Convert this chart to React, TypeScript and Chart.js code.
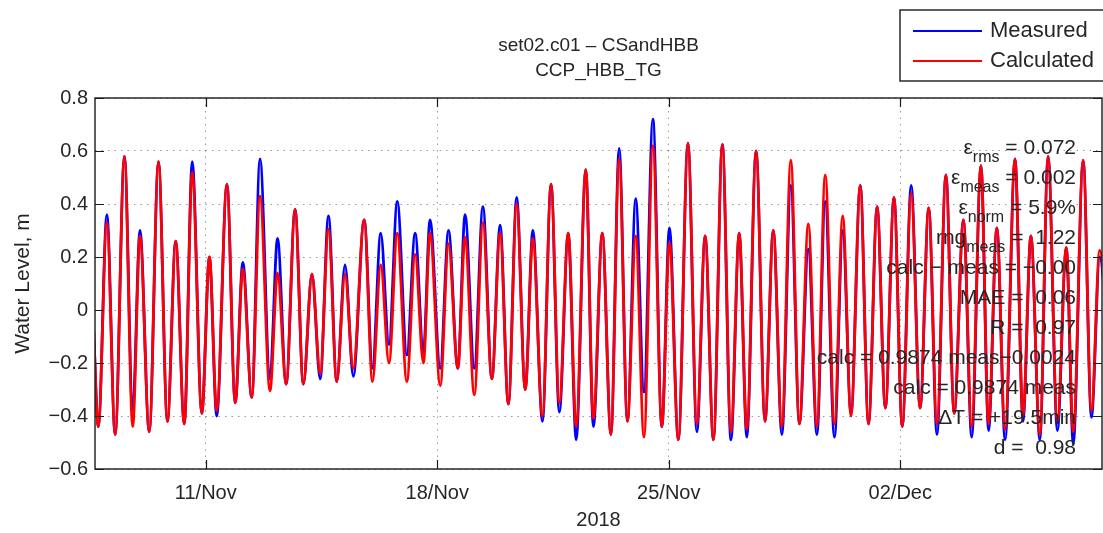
import React, { useEffect, useRef } from "react";
import { Chart, registerables } from "chart.js";

Chart.register(...registerables);

// Time axis: day number counted from 0 Nov 2018 (Dec 2 = 32)
const xTickValues = [11, 18, 25, 32];
const xTickLabels = ["11/Nov", "18/Nov", "25/Nov", "02/Dec"];
const yTickValues = [-0.6, -0.4, -0.2, 0, 0.2, 0.4, 0.6, 0.8];
const yTickLabels = ["\u22120.6", "\u22120.4", "\u22120.2", "0", "0.2", "0.4", "0.6", "0.8"];

const titleLines = ["set02.c01 \u2013 CSandHBB", "CCP_HBB_TG"];
const xAxisTitle = "2018";
const yAxisTitle = "Water Level, m";
const seriesNames = ["Measured", "Calculated"];

// Times (days) of the high / low water turning points
const days = [
  7.6, 7.75, 8.01, 8.26, 8.54, 8.79, 9.01, 9.29, 9.57, 9.84, 10.09, 10.35, 10.59, 10.88, 11.11, 11.33,
  11.64, 11.89, 12.12, 12.39, 12.64, 12.94, 13.17, 13.43, 13.7, 13.95, 14.21, 14.46, 14.71, 14.96,
  15.21, 15.46, 15.79, 16.04, 16.29, 16.54, 16.79, 17.08, 17.33, 17.58, 17.78, 18.09, 18.34, 18.62,
  18.84, 19.12, 19.38, 19.65, 19.9, 20.15, 20.4, 20.66, 20.89, 21.18, 21.44, 21.69, 21.96, 22.2,
  22.49, 22.72, 22.99, 23.25, 23.5, 23.75, 24.0, 24.25, 24.52, 24.79, 25.02, 25.29, 25.58, 25.85,
  26.1, 26.35, 26.62, 26.88, 27.13, 27.36, 27.64, 27.91, 28.16, 28.42, 28.69, 28.95, 29.22, 29.48,
  29.73, 30.01, 30.26, 30.51, 30.79, 31.04, 31.3, 31.55, 31.81, 32.06, 32.33, 32.6, 32.86, 33.11,
  33.38, 33.63, 33.91, 34.16, 34.44, 34.67, 34.92, 35.17, 35.47, 35.71, 35.95, 36.22, 36.47, 36.75,
  37.02, 37.23, 37.53, 37.78, 38.03, 38.3,
];

const measured = [
  -0.05,
  -0.44, 0.36, -0.47, 0.58, -0.38, 0.3, -0.46, 0.56, -0.42, 0.26,
  -0.43, 0.56, -0.39, 0.2, -0.4, 0.475, -0.35, 0.18, -0.33, 0.57,
  -0.26, 0.27, -0.28, 0.38, -0.28, 0.135, -0.26, 0.355, -0.27, 0.17,
  -0.25, 0.34, -0.22, 0.29, -0.13, 0.41, -0.17, 0.29, -0.16, 0.34,
  -0.22, 0.3, -0.22, 0.36, -0.22, 0.39, -0.26, 0.32, -0.355, 0.425,
  -0.3, 0.3, -0.42, 0.475, -0.385, 0.29, -0.49, 0.53, -0.44, 0.29,
  -0.47, 0.61, -0.42, 0.42, -0.31, 0.72, -0.44, 0.31, -0.49, 0.63,
  -0.46, 0.28, -0.49, 0.625, -0.49, 0.29, -0.48, 0.6, -0.42, 0.3,
  -0.47, 0.47, -0.43, 0.23, -0.47, 0.41, -0.48, 0.3, -0.39, 0.47,
  -0.43, 0.39, -0.37, 0.425, -0.44, 0.47, -0.37, 0.385, -0.47, 0.51,
  -0.39, 0.34, -0.48, 0.545, -0.455, 0.31, -0.49, 0.57, -0.42, 0.28,
  -0.49, 0.58, -0.455, 0.235, -0.505, 0.565, -0.405, 0.2,
  -0.15,
];

const calculated = [
  -0.05,
  -0.44, 0.33, -0.47, 0.58, -0.44, 0.28, -0.46, 0.56, -0.42, 0.26,
  -0.43, 0.52, -0.39, 0.2, -0.38, 0.475, -0.35, 0.155, -0.33, 0.43,
  -0.305, 0.14, -0.28, 0.38, -0.28, 0.135, -0.24, 0.305, -0.27, 0.135,
  -0.22, 0.34, -0.27, 0.17, -0.2, 0.29, -0.27, 0.21, -0.2, 0.29,
  -0.285, 0.25, -0.22, 0.275, -0.32, 0.33, -0.26, 0.29, -0.355, 0.4,
  -0.3, 0.27, -0.4, 0.475, -0.35, 0.29, -0.44, 0.53, -0.41, 0.29,
  -0.47, 0.57, -0.42, 0.28, -0.48, 0.62, -0.44, 0.255, -0.49, 0.63,
  -0.43, 0.28, -0.49, 0.625, -0.46, 0.29, -0.45, 0.6, -0.42, 0.3,
  -0.44, 0.565, -0.43, 0.325, -0.44, 0.51, -0.43, 0.355, -0.4, 0.47,
  -0.43, 0.39, -0.37, 0.425, -0.44, 0.44, -0.37, 0.385, -0.43, 0.51,
  -0.39, 0.34, -0.44, 0.545, -0.43, 0.31, -0.45, 0.57, -0.4, 0.28,
  -0.47, 0.58, -0.42, 0.235, -0.46, 0.565, -0.38, 0.225,
  -0.1,
];

// Statistics box: [main, subscript, rest]
const statLines: [string, string, string][] = [
  ["\u03b5", "rms", " = 0.072"],
  ["\u03b5", "meas", " = 0.002"],
  ["\u03b5", "norm", " = 5.9%"],
  ["rng", "meas", " =  1.22"],
  ["calc \u2212 meas = \u22120.00", "", ""],
  ["MAE =  0.06", "", ""],
  ["R =  0.97", "", ""],
  ["calc = 0.9874 meas\u22120.0024", "", ""],
  ["calc = 0.9874 meas", "", ""],
  ["\u0394T = +19.5min", "", ""],
  ["d =  0.98", "", ""],
];

const FONT = '"Liberation Sans", Arial, Helvetica, sans-serif';
const TEXT = "#262626";
const BLUE = "#0000ff";
const RED = "#ff0000";

const overlay = {
  id: "matlabOverlay",
  afterDraw(chart: any) {
    const ctx: CanvasRenderingContext2D = chart.ctx;
    const a = chart.chartArea;
    const xs = chart.scales.x;
    const ys = chart.scales.y;
    ctx.save();

    // axes box
    ctx.strokeStyle = "#1a1a1a";
    ctx.lineWidth = 1.4;
    ctx.strokeRect(a.left, a.top, a.right - a.left, a.bottom - a.top);

    // inward ticks
    ctx.beginPath();
    yTickValues.forEach((v) => {
      const y = Math.round(ys.getPixelForValue(v)) + 0.5;
      ctx.moveTo(a.left, y);
      ctx.lineTo(a.left + 9, y);
      ctx.moveTo(a.right, y);
      ctx.lineTo(a.right - 9, y);
    });
    xTickValues.forEach((v) => {
      const x = Math.round(xs.getPixelForValue(v)) + 0.5;
      ctx.moveTo(x, a.bottom);
      ctx.lineTo(x, a.bottom - 9);
      ctx.moveTo(x, a.top);
      ctx.lineTo(x, a.top + 9);
    });
    ctx.lineWidth = 1.2;
    ctx.stroke();

    // title
    ctx.fillStyle = TEXT;
    ctx.textAlign = "center";
    ctx.textBaseline = "middle";
    ctx.font = `19px ${FONT}`;
    const cx = (a.left + a.right) / 2;
    ctx.fillText(titleLines[0], cx, 46);
    ctx.fillText(titleLines[1], cx, 71);

    // x axis title
    ctx.font = `20px ${FONT}`;
    ctx.fillText(xAxisTitle, cx, 520);

    // y axis title
    ctx.save();
    ctx.translate(23, (a.top + a.bottom) / 2);
    ctx.rotate(-Math.PI / 2);
    ctx.font = `21px ${FONT}`;
    ctx.fillText(yAxisTitle, 0, 0);
    ctx.restore();

    // legend
    ctx.fillStyle = "#ffffff";
    ctx.fillRect(900, 10, 210, 71);
    ctx.strokeStyle = "#1a1a1a";
    ctx.lineWidth = 1.4;
    ctx.strokeRect(900, 10, 210, 71);
    const legendRows = [
      { name: seriesNames[0], color: BLUE, y: 31 },
      { name: seriesNames[1], color: RED, y: 61 },
    ];
    legendRows.forEach((r) => {
      ctx.strokeStyle = r.color;
      ctx.lineWidth = 2;
      ctx.beginPath();
      ctx.moveTo(913, r.y);
      ctx.lineTo(982, r.y);
      ctx.stroke();
      ctx.fillStyle = TEXT;
      ctx.textAlign = "left";
      ctx.font = `22px ${FONT}`;
      ctx.fillText(r.name, 990, r.y);
    });

    // statistics text (right aligned)
    const right = 1076;
    statLines.forEach((ln, i) => {
      const y = 148 + i * 30;
      ctx.textBaseline = "middle";
      ctx.textAlign = "left";
      ctx.font = `21px ${FONT}`;
      const w0 = ctx.measureText(ln[0]).width;
      const w2 = ctx.measureText(ln[2]).width;
      ctx.font = `16px ${FONT}`;
      const w1 = ctx.measureText(ln[1]).width;
      let x = right - (w0 + w1 + w2);
      ctx.fillStyle = TEXT;
      ctx.font = `21px ${FONT}`;
      ctx.fillText(ln[0], x, y);
      x += w0;
      if (ln[1]) {
        ctx.font = `16px ${FONT}`;
        ctx.fillText(ln[1], x, y + 10);
        x += w1;
      }
      ctx.font = `21px ${FONT}`;
      ctx.fillText(ln[2], x, y);
    });

    ctx.restore();
  },
};

export default function App() {
  const canvasRef = useRef<HTMLCanvasElement | null>(null);

  useEffect(() => {
    document.body.style.margin = "0";
    const canvas = canvasRef.current;
    if (!canvas) return;
    const mk = (vals: number[]) => days.map((d, i) => ({ x: d, y: vals[i] }));
    const chart = new Chart(canvas, {
      type: "line",
      data: {
        datasets: [
          {
            label: seriesNames[0],
            data: mk(measured),
            borderColor: BLUE,
            borderWidth: 2.8,
            pointRadius: 0,
            fill: false,
            order: 2,
            cubicInterpolationMode: "monotone",
          },
          {
            label: seriesNames[1],
            data: mk(calculated),
            borderColor: RED,
            borderWidth: 2.8,
            pointRadius: 0,
            fill: false,
            order: 1,
            cubicInterpolationMode: "monotone",
          },
        ],
      },
      options: {
        responsive: false,
        animation: false,
        devicePixelRatio: 1,
        layout: { padding: { top: 98, right: 1, left: 0, bottom: 0 } },
        plugins: {
          legend: { display: false },
          title: { display: false },
          tooltip: { enabled: false },
        },
        scales: {
          x: {
            type: "linear",
            min: 7.65,
            max: 38.1,
            afterBuildTicks: (s: any) => {
              s.ticks = xTickValues.map((v) => ({ value: v }));
            },
            afterFit: (s: any) => {
              s.height = 64;
            },
            ticks: {
              autoSkip: false,
              maxRotation: 0,
              padding: 12,
              color: TEXT,
              font: { family: FONT, size: 20 },
              callback: (v: any) => {
                const i = xTickValues.indexOf(Number(v));
                return i >= 0 ? xTickLabels[i] : "";
              },
            },
            grid: { drawTicks: false, color: "rgba(0,0,0,0.4)", lineWidth: 1 },
            border: { display: false, dash: [1.5, 5] },
          },
          y: {
            type: "linear",
            min: -0.6,
            max: 0.8,
            afterBuildTicks: (s: any) => {
              s.ticks = yTickValues.map((v) => ({ value: v }));
            },
            afterFit: (s: any) => {
              s.width = 95;
            },
            ticks: {
              padding: 7,
              color: TEXT,
              font: { family: FONT, size: 20 },
              callback: (v: any) => {
                const i = yTickValues.findIndex((t) => Math.abs(t - Number(v)) < 1e-9);
                return i >= 0 ? yTickLabels[i] : "";
              },
            },
            grid: { drawTicks: false, color: "rgba(0,0,0,0.4)", lineWidth: 1 },
            border: { display: false, dash: [1.5, 5] },
          },
        },
      },
      plugins: [overlay],
    } as any);
    return () => chart.destroy();
  }, []);

  return (
    <div style={{ position: "relative", width: 1103, height: 533, background: "#fff" }}>
      <canvas ref={canvasRef} width={1103} height={533} style={{ display: "block", width: 1103, height: 533 }} />
    </div>
  );
}
